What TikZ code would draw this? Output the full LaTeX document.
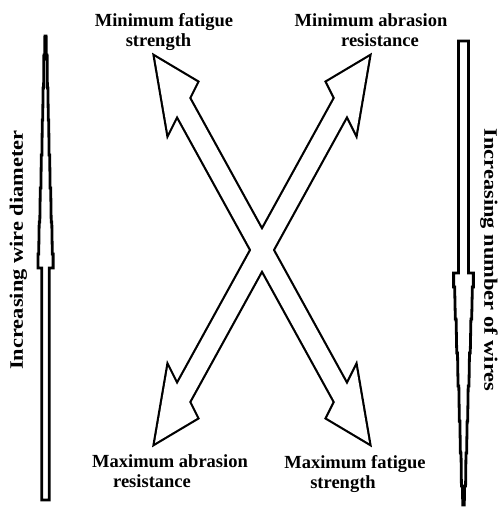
\documentclass[tikz,border=0pt]{standalone}
\usepackage{fontspec}
\setmainfont{Liberation Serif}
\begin{document}
\begin{tikzpicture}[x=1pt,y=-1pt,
  label/.style={font=\bfseries\fontsize{18.5}{20}\selectfont, inner sep=0pt, anchor=base},
  sidelabel/.style={font=\bfseries\fontsize{19}{20}\selectfont, inner sep=0pt},
  outline/.style={line width=4.4pt, line join=miter, miter limit=12},
  barline/.style={line width=2.8pt, line join=miter, fill=white}]
\useasboundingbox (0,0) rectangle (499,510);

% stepped bar outline, centred on x = 0, tip at the top
\newcommand\steppedbar{%
  (0.6,36) -- (0.8,55) -- (1.6,55) -- (1.9,88) -- (2.4,88) -- (2.8,120)
  -- (3.2,120) -- (3.6,155) -- (4.2,155) -- (4.6,188) -- (5.2,188) -- (5.7,222)
  -- (6.3,222) -- (6.8,254) -- (7.6,254) -- (7.6,268) -- (3.8,268) -- (3.8,500)
  -- (-3.8,500) -- (-3.8,268) -- (-7.6,268) -- (-7.6,254) -- (-6.8,254)
  -- (-6.3,222) -- (-5.7,222) -- (-5.2,188) -- (-4.6,188) -- (-4.2,155)
  -- (-3.6,155) -- (-3.2,120) -- (-2.8,120) -- (-2.4,88) -- (-1.9,88)
  -- (-1.6,55) -- (-0.8,55) -- (-0.6,36) -- cycle}

% left bar: narrow tip at the top
\begin{scope}[shift={(45.5,0)}]
  \draw[barline] \steppedbar;
\end{scope}
% right bar: mirrored, tip at the bottom
\begin{scope}[shift={(463.5,541)}, yscale=-1, xscale=1.3]
  \draw[barline] \steppedbar;
\end{scope}

% the two crossed double-headed block arrows (outline of their union)
\newcommand\arrowA{(155,57) -- (197,82) -- (189,98) -- (347,385) -- (356,367)
  -- (369,443) -- (327,418) -- (335,402) -- (177,115) -- (168,133) -- cycle}
\newcommand\arrowB{(369,57) -- (327,82) -- (335,98) -- (177,385) -- (168,367)
  -- (155,443) -- (197,418) -- (189,402) -- (347,115) -- (356,133) -- cycle}
\draw[outline] \arrowA;
\draw[outline] \arrowB;
\fill[white] \arrowA;
\fill[white] \arrowB;

% corner labels
\node[label] (tl1) at (164,27) {Minimum fatigue};
\node[label] (tl2) at (158.5,47) {strength};
\node[label] (tr1) at (371,27) {Minimum abrasion};
\node[label] (tr2) at (380,47) {resistance};
\node[label] (bl1) at (170,467) {Maximum abrasion};
\node[label] (bl2) at (152,487) {resistance};
\node[label] (br1) at (355,468) {Maximum fatigue};
\node[label] (br2) at (343,488) {strength};

% side labels
\node[sidelabel, rotate=90] (left) at (18.5,250)
  {\scalebox{1.18}[1]{Increasing wire diameter}};
\node[sidelabel, rotate=-90] (right) at (489,260)
  {\scalebox{1.18}[1]{Increasing number of wires}};
\end{tikzpicture}
\end{document}
